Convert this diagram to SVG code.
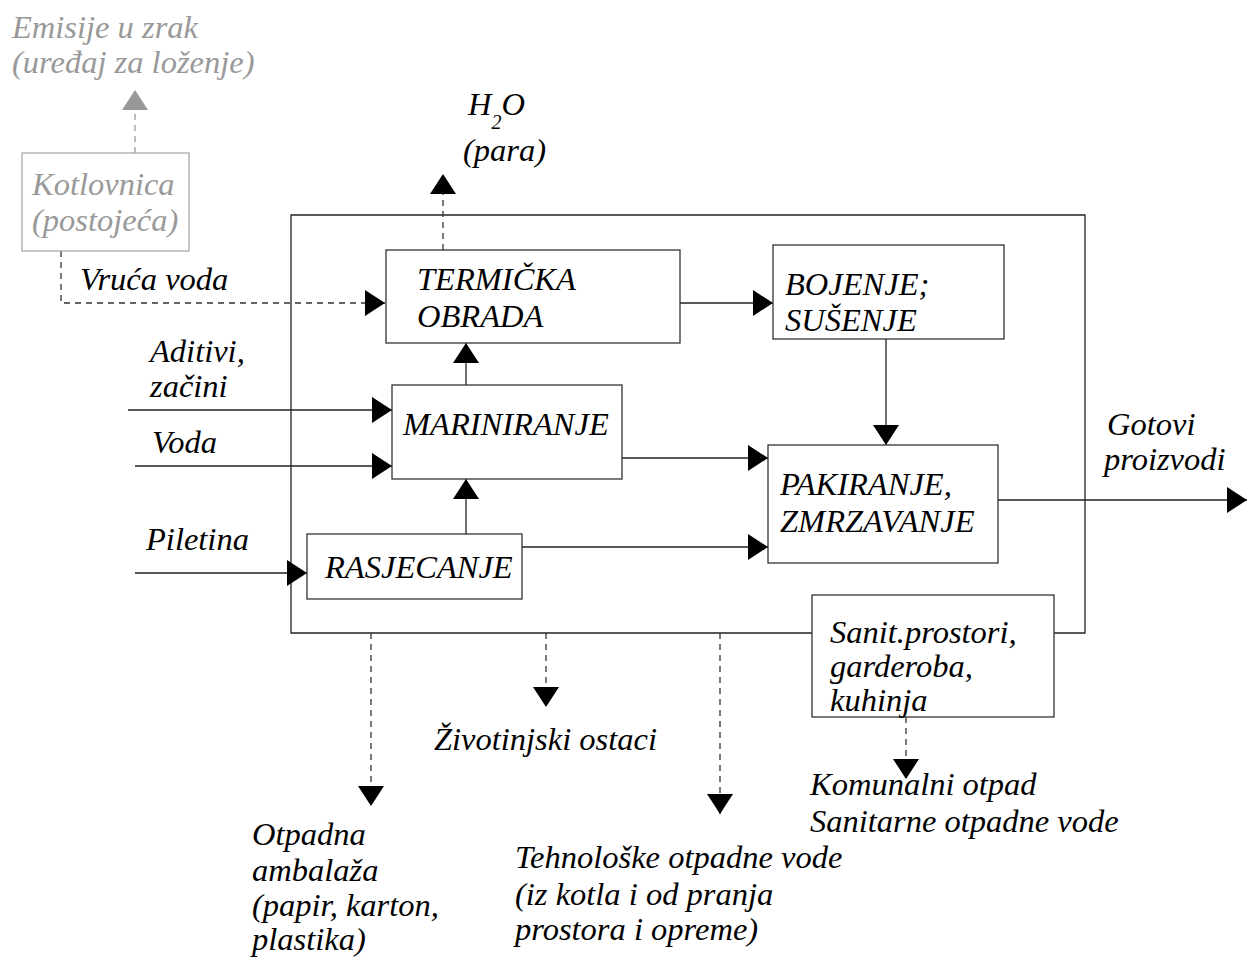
<svg xmlns="http://www.w3.org/2000/svg" width="1248" height="959" viewBox="0 0 1248 959">
<style>
text{font-family:"Liberation Serif","Times New Roman",serif;font-style:italic;font-size:32.5px;fill:#000}
.g text,text.g{fill:#999}
.box{fill:#fff;stroke:#333;stroke-width:1.3}
.gbox{fill:#fff;stroke:#aaa;stroke-width:1.3}
.ln{fill:none;stroke:#222;stroke-width:1.3}
.dl{fill:none;stroke:#333;stroke-width:1.3;stroke-dasharray:6 5}
.gdl{fill:none;stroke:#999;stroke-width:1.3;stroke-dasharray:6 5}
.a{marker-end:url(#ah)}
.ga{marker-end:url(#gah)}
</style>
<defs>
<marker id="ah" markerUnits="userSpaceOnUse" markerWidth="20" markerHeight="26" refX="20" refY="13" orient="auto"><path d="M0,0 L20,13 L0,26 Z" fill="#000"/></marker>
<marker id="gah" markerUnits="userSpaceOnUse" markerWidth="20" markerHeight="26" refX="20" refY="13" orient="auto"><path d="M0,0 L20,13 L0,26 Z" fill="#999"/></marker>
</defs>
<rect width="1248" height="959" fill="#fff"/>
<g id="plant-boundary"><path class="ln" d="M812,633 L291,633 L291,215 L1085,215 L1085,633 L1054,633"/></g>
<g id="connectors">
<path class="gdl ga" d="M135,153 L135,90"/>
<path class="dl a" d="M61,251 L61,303 L385,303"/>
<path class="dl a" d="M443,250 L443,174"/>
<path class="ln a" d="M680,303 L773,303"/>
<path class="ln a" d="M886,339 L886,445"/>
<path class="ln a" d="M466,385 L466,343"/>
<path class="ln a" d="M622,458 L768,458"/>
<path class="ln a" d="M466,534 L466,479"/>
<path class="ln a" d="M522,547 L768,547"/>
<path class="ln a" d="M128,410 L392,410"/>
<path class="ln a" d="M135,466 L392,466"/>
<path class="ln a" d="M135,573 L307,573"/>
<path class="ln a" d="M998,500 L1247,500"/>
<path class="dl a" d="M371,633 L371,806"/>
<path class="dl a" d="M546,633 L546,707"/>
<path class="dl a" d="M720,633 L720,814"/>
<path class="dl a" d="M906,717 L906,779"/>
</g>
<g id="kotlovnica" class="g"><rect class="gbox" x="22" y="153" width="167" height="98"/><text x="32" y="195">Kotlovnica</text><text x="32" y="231">(postojeća)</text></g>
<g id="emisije" class="g"><text x="12" y="38">Emisije u zrak</text><text x="12" y="73">(uređaj za loženje)</text></g>
<g id="termicka"><rect class="box" x="386" y="250" width="294" height="93"/><text x="417" y="290">TERMIČKA</text><text x="417" y="327">OBRADA</text></g>
<g id="bojenje"><rect class="box" x="773" y="245" width="231" height="94"/><text x="785" y="295">BOJENJE;</text><text x="785" y="331">SUŠENJE</text></g>
<g id="mariniranje"><rect class="box" x="392" y="385" width="230" height="94"/><text x="403" y="435">MARINIRANJE</text></g>
<g id="pakiranje"><rect class="box" x="768" y="445" width="230" height="118"/><text x="780" y="495">PAKIRANJE,</text><text x="780" y="532">ZMRZAVANJE</text></g>
<g id="rasjecanje"><rect class="box" x="307" y="534" width="215" height="65"/><text x="325" y="578">RASJECANJE</text></g>
<g id="sanit"><rect class="box" x="812" y="595" width="242" height="122"/><text x="830" y="643">Sanit.prostori,</text><text x="830" y="677">garderoba,</text><text x="830" y="711">kuhinja</text></g>
<g id="labels">
<text x="80" y="290">Vruća voda</text>
<text x="468" y="115">H<tspan font-size="20" dy="14">2</tspan><tspan dy="-14">O</tspan></text>
<text x="463" y="161">(para)</text>
<text x="150" y="362">Aditivi,</text>
<text x="150" y="397">začini</text>
<text x="152" y="453">Voda</text>
<text x="146" y="550">Piletina</text>
<text x="1107" y="435">Gotovi</text>
<text x="1104" y="470">proizvodi</text>
<text x="434" y="750">Životinjski ostaci</text>
<text x="252" y="845">Otpadna</text>
<text x="252" y="881">ambalaža</text>
<text x="252" y="916">(papir, karton,</text>
<text x="252" y="950">plastika)</text>
<text x="515" y="868">Tehnološke otpadne vode</text>
<text x="515" y="905">(iz kotla i od pranja</text>
<text x="515" y="940">prostora i opreme)</text>
<text x="810" y="795">Komunalni otpad</text>
<text x="810" y="832">Sanitarne otpadne vode</text>
</g>
</svg>
